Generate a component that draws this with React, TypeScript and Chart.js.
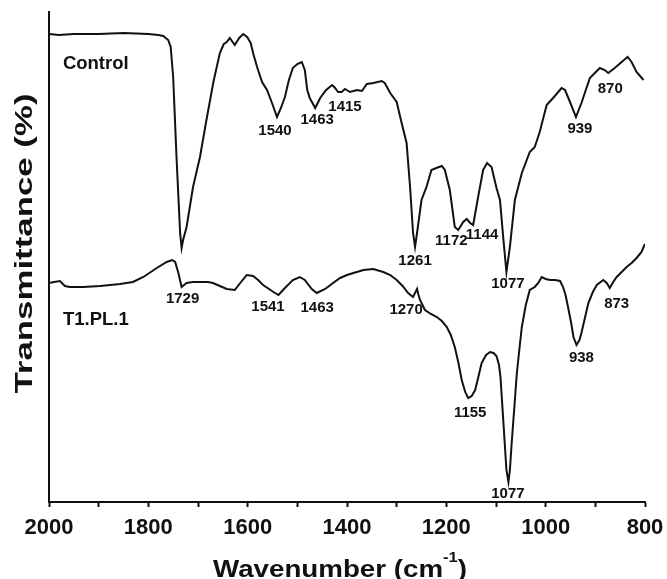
import React, { useEffect, useRef } from "react";
import { Chart, registerables } from "chart.js";

Chart.register(...registerables);

// ---- Data (wavenumber in cm^-1, transmittance in arbitrary units) ----
const controlWn = [
  2000, 1980, 1950, 1900, 1850, 1800, 1780, 1770, 1760, 1755, 1750, 1743, 1736, 1733,
  1730, 1723, 1710, 1696, 1683, 1669, 1656, 1648, 1642, 1636, 1626, 1617, 1609, 1601,
  1594, 1588, 1581, 1571, 1561, 1551, 1541, 1533, 1525, 1517, 1509, 1500, 1491, 1485,
  1480, 1475, 1464, 1454, 1442, 1430, 1424, 1418, 1411, 1404, 1394, 1380, 1370, 1360,
  1347, 1330, 1324, 1313, 1300, 1290, 1280, 1273, 1267, 1263, 1259, 1250, 1240, 1230,
  1220, 1209, 1203, 1193, 1183, 1176, 1166, 1159, 1152, 1146, 1136, 1126, 1118, 1109,
  1099, 1092, 1085, 1079, 1072, 1062, 1048, 1032, 1022, 1012, 998, 985, 968, 961, 951,
  939, 928, 911, 891, 881, 874, 861, 847, 835, 827, 817, 803,
];
const controlT = [
  468, 467, 468, 468, 469, 468, 467, 466, 462, 455, 425, 342, 269, 254,
  262, 275, 315, 345, 382, 420, 449, 458, 460, 464, 457, 464, 468, 465,
  459, 447, 435, 420, 412, 399, 385, 394, 405, 422, 434, 438, 440, 432,
  412, 404, 394, 404, 412, 417, 414, 410, 410, 413, 410, 412, 411, 418,
  419, 421, 419, 409, 400, 379, 359, 315, 269, 255, 269, 302, 315, 332,
  334, 336, 332, 312, 275, 272, 280, 283, 279, 277, 305, 332, 339, 335,
  314, 302, 262, 230, 255, 302, 329, 350, 355, 370, 397, 404, 414, 412, 400,
  385, 399, 424, 434, 432, 429, 434, 440, 445, 440, 430, 422,
];

const t1Wn = [
  2000, 1990, 1978, 1968, 1958, 1931, 1897, 1857, 1831, 1810, 1795, 1783, 1763, 1752,
  1746, 1740, 1733, 1723, 1710, 1696, 1680, 1670, 1656, 1642, 1626, 1615, 1602, 1589,
  1579, 1569, 1548, 1538, 1525, 1509, 1495, 1485, 1471, 1461, 1444, 1428, 1414, 1400,
  1387, 1367, 1347, 1327, 1313, 1300, 1288, 1277, 1267, 1263, 1259, 1256, 1253, 1243,
  1231, 1219, 1209, 1199, 1191, 1183, 1176, 1169, 1162, 1156, 1149, 1142, 1136, 1129,
  1120, 1112, 1105, 1099, 1094, 1091, 1085, 1079, 1075, 1072, 1069, 1062, 1058, 1052,
  1048, 1040, 1032, 1022, 1015, 1008, 1000, 991, 981, 971, 965, 960, 955, 949, 944,
  938, 932, 928, 921, 914, 905, 897, 884, 877, 871, 864, 857, 847, 837, 827, 817, 807,
  802, 800,
];
const t1T = [
  219, 220, 221, 216, 215, 215, 216, 218, 220, 225, 230, 234, 240, 242,
  240, 230, 215, 219, 220, 220, 220, 219, 216, 213, 212, 219, 227, 226,
  222, 217, 210, 207, 214, 222, 225, 222, 213, 209, 213, 219, 224, 227,
  229, 232, 233, 230, 227, 222, 216, 209, 205, 209, 213, 207, 202, 192,
  188, 185, 181, 175, 167, 155, 140, 122, 110, 104, 106, 112, 124, 139,
  147, 150, 149, 146, 137, 125, 79, 32, 20, 32, 55, 102, 129, 157,
  175, 197, 212, 215, 219, 225, 223, 222, 222, 221, 215, 207, 195, 180, 165,
  157, 162, 169, 184, 199, 210, 217, 222, 219, 214, 220, 225, 230, 235, 239, 244, 250,
  256, 258,
];

const xTickValues = [2000, 1800, 1600, 1400, 1200, 1000, 800];

const controlPeakLabels = ["1540", "1463", "1415", "1261", "1172", "1144", "1077", "939", "870"];
const controlPeakX = [1545, 1460, 1404, 1263, 1190, 1128, 1076, 931, 870];
const controlPeakY = [371, 382, 395, 241, 261.5, 267.5, 218, 373, 413];

const t1PeakLabels = ["1729", "1541", "1463", "1270", "1155", "1077", "938", "873"];
const t1PeakX = [1731, 1559, 1460, 1281, 1152, 1076, 928, 857];
const t1PeakY = [203, 195.5, 194.5, 192.5, 89, 8.5, 144, 198.5];

const seriesNames = ["Control", "T1.PL.1"];
const seriesNameX = [1972, 1972];
const seriesNameY = [438.5, 182];

const FONT = '"Liberation Sans", Arial, Helvetica, sans-serif';
const INK = "#111";

const annotatePlugin = {
  id: "annotate",
  afterDraw(chart: any) {
    const { ctx } = chart;
    const xs = chart.scales.x;
    const ys = chart.scales.y;
    ctx.save();
    ctx.fillStyle = INK;

    // peak labels
    ctx.font = `bold 15px ${FONT}`;
    ctx.textAlign = "center";
    ctx.textBaseline = "middle";
    controlPeakLabels.forEach((t, i) => {
      ctx.fillText(t, xs.getPixelForValue(controlPeakX[i]), ys.getPixelForValue(controlPeakY[i]));
    });
    t1PeakLabels.forEach((t, i) => {
      ctx.fillText(t, xs.getPixelForValue(t1PeakX[i]), ys.getPixelForValue(t1PeakY[i]));
    });

    // series names
    ctx.font = `bold 18.5px ${FONT}`;
    ctx.textAlign = "left";
    seriesNames.forEach((t, i) => {
      ctx.fillText(t, xs.getPixelForValue(seriesNameX[i]), ys.getPixelForValue(seriesNameY[i]));
    });

    // y-axis title
    const yTitle = "Transmittance (%)";
    ctx.save();
    ctx.translate(31.5, 243.5);
    ctx.rotate(-Math.PI / 2);
    ctx.font = `bold 23.5px ${FONT}`;
    ctx.textAlign = "center";
    ctx.textBaseline = "alphabetic";
    const yw = ctx.measureText(yTitle).width;
    ctx.scale(300 / yw, 1);
    ctx.fillText(yTitle, 0, 0);
    ctx.restore();

    // x-axis title with superscript
    const main = "Wavenumber (cm";
    const sup = "-1";
    const close = ")";
    ctx.save();
    ctx.textAlign = "left";
    ctx.textBaseline = "alphabetic";
    ctx.font = `bold 23.5px ${FONT}`;
    const wm = ctx.measureText(main).width;
    const wc = ctx.measureText(close).width;
    ctx.font = `bold 14px ${FONT}`;
    const wsup = ctx.measureText(sup).width;
    const total = wm + wsup + wc;
    const s = 254 / total;
    ctx.translate(213, 577);
    ctx.scale(s, 1);
    ctx.font = `bold 23.5px ${FONT}`;
    ctx.fillText(main, 0, 0);
    ctx.font = `bold 14px ${FONT}`;
    ctx.fillText(sup, wm, -15);
    ctx.font = `bold 23.5px ${FONT}`;
    ctx.fillText(close, wm + wsup, 0);
    ctx.restore();

    ctx.restore();
  },
};

export default function App() {
  const canvasRef = useRef<HTMLCanvasElement | null>(null);

  useEffect(() => {
    document.body.style.margin = "0";
    const canvas = canvasRef.current;
    if (!canvas) return;
    const chart = new Chart(canvas, {
      type: "line",
      data: {
        datasets: [
          {
            label: "Control",
            data: controlWn.map((w, i) => ({ x: w, y: controlT[i] })),
            borderColor: INK,
            borderWidth: 2,
            pointRadius: 0,
            tension: 0,
            fill: false,
          },
          {
            label: "T1.PL.1",
            data: t1Wn.map((w, i) => ({ x: w, y: t1T[i] })),
            borderColor: INK,
            borderWidth: 2,
            pointRadius: 0,
            tension: 0,
            fill: false,
          },
        ],
      },
      options: {
        animation: false,
        responsive: false,
        devicePixelRatio: 1,
        layout: { padding: { top: 12, right: 22, left: 0, bottom: 0 } },
        plugins: {
          legend: { display: false },
          tooltip: { enabled: false },
          title: { display: false },
        },
        scales: {
          x: {
            type: "linear",
            reverse: true,
            min: 800,
            max: 2000,
            afterFit: (scale: any) => {
              scale.height = 77;
              scale.paddingRight = 22;
              scale.paddingLeft = 25;
            },
            ticks: {
              stepSize: 100,
              autoSkip: false,
              maxRotation: 0,
              padding: 8,
              color: INK,
              font: { family: FONT, size: 22, weight: "bold" },
              callback: (v: any) => (xTickValues.includes(Number(v)) ? String(v) : ""),
            },
            grid: {
              display: true,
              drawOnChartArea: false,
              drawTicks: true,
              tickLength: 5,
              tickColor: INK,
              tickWidth: 2,
            },
            border: { display: true, color: INK, width: 2 },
            title: { display: false },
          },
          y: {
            type: "linear",
            min: 0,
            max: 490,
            afterFit: (scale: any) => {
              scale.width = 49;
            },
            ticks: { display: false },
            grid: { display: false, drawTicks: false },
            border: { display: true, color: INK, width: 2 },
            title: { display: false },
          },
        },
      },
      plugins: [annotatePlugin],
    });
    return () => {
      chart.destroy();
    };
  }, []);

  return (
    <div style={{ width: 667, height: 579, background: "#fff" }}>
      <canvas ref={canvasRef} width={667} height={579} style={{ display: "block" }} />
    </div>
  );
}
